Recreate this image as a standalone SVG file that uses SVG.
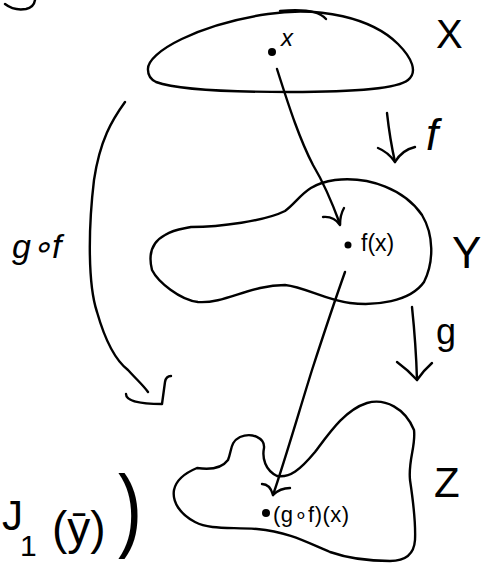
<svg xmlns="http://www.w3.org/2000/svg" width="482" height="569" viewBox="0 0 482 569">
<style>
.s{fill:none;stroke:#000;stroke-width:2.4;stroke-linecap:round;stroke-linejoin:round}
.t{font-family:"Liberation Sans",Arial,sans-serif;fill:#000}
.dot{fill:#000}
</style>
<rect width="482" height="569" fill="#fff"/>
<path class="s" d="M5,4 Q14,11 26,9 Q34,7 35,0"/>
<g id="X">
<path class="s" d="M148,70 C146,52 200,24 268,14 C320,6 372,18 398,44 C412,58 418,72 408,80 C396,90 340,92 290,92 C230,92 175,89 156,82 C150,79 148,75 148,70 Z"/>
<path class="s" d="M280,11 C300,9 318,10 326,19"/>
<circle class="dot" cx="272" cy="52" r="4"/>
<text class="t" x="281" y="46" font-size="24" font-style="italic">x</text>
<text class="t" x="436" y="48" font-size="40">X</text>
</g>
<g id="Y">
<path class="s" d="M191,227 C220,227 265,221 285,211 C300,200 305,184 335,180 C370,176 405,190 422,215 C434,235 434,262 424,282 C410,302 375,306 350,303 C325,300 305,287 285,285 C250,285 225,304 198,302 C180,300 158,282 152,270 C148,254 152,242 165,235 C175,229 183,229 191,227 Z"/>
<circle class="dot" cx="348" cy="245" r="3.5"/>
<text class="t" x="361" y="251" font-size="23">f(x)</text>
<text class="t" x="452" y="268" font-size="44">Y</text>
</g>
<g id="Z">
<path class="s" d="M197,468 C210,470 222,468 228,460 C232,450 230,442 240,437 C252,432 265,438 264,448 C262,458 265,470 277,476 C290,478 300,470 315,452 C330,432 345,410 367,403 C385,398 405,408 414,430 C416,446 408,460 410,480 C413,500 416,520 415,540 C414,555 405,561 390,561 C370,561 350,559 330,552 C310,544 290,532 257,529 C230,527 210,530 195,522 C180,514 172,502 174,490 C176,480 185,473 197,468 Z"/>
<circle class="dot" cx="266" cy="513" r="4"/>
<text class="t" x="273" y="522" font-size="22" letter-spacing="0.5">(g∘f)(x)</text>
<text class="t" x="434" y="497" font-size="42">Z</text>
</g>
<g id="labels">
<text class="t" x="426" y="150" font-size="44" font-style="italic">f</text>
<text class="t" x="436" y="344" font-size="36">g</text>
<text class="t" x="12" y="258" font-size="34" font-style="italic">g∘f</text>
<text class="t" x="2" y="530" font-size="42">J</text>
<text class="t" x="20" y="556" font-size="30">1</text>
<text class="t" x="52" y="544" font-size="46">(ȳ)</text>
<text class="t" font-size="80" transform="translate(118,540) scale(0.9,1.15)">)</text>
</g>
<g id="connectors">
<path class="s" d="M277,69 C290,110 300,140 313,165 C325,185 333,205 340,224"/>
<path class="s" d="M323,217 Q334,216 340,225 Q340,215 344,208"/>
<path class="s" d="M387,113 Q390,140 395,162"/>
<path class="s" d="M378,148 Q388,152 395,162 Q402,150 415,147"/>
<path class="s" d="M125,102 C112,120 100,140 94,180 C88,230 88,285 97,312 C105,340 115,360 128,370 C137,380 143,385 148,392"/>
<path class="s" d="M126,394 Q126,404 162,404 L165,382 Q166,376 171,376"/>
<path class="s" d="M345,272 C335,300 325,330 312,370 C298,415 285,460 273,495"/>
<path class="s" d="M262,484 Q270,484 273,495 Q280,488 290,488"/>
<path class="s" d="M412,307 Q416,345 417,380"/>
<path class="s" d="M397,362 Q408,370 417,380 Q424,370 432,363"/>
</g>
</svg>
